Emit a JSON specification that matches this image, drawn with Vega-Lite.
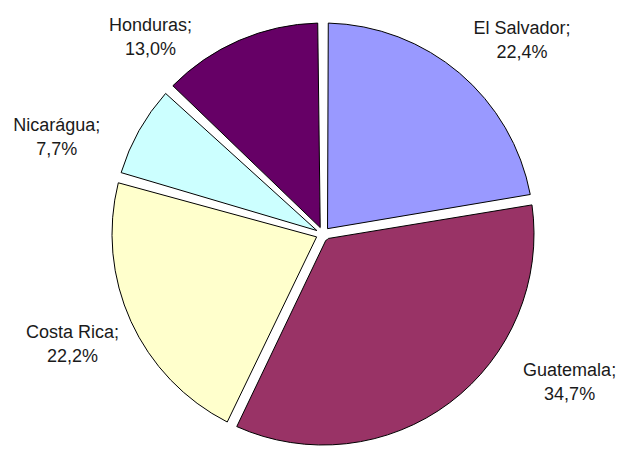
{
  "$schema": "https://vega.github.io/schema/vega-lite/v6.json",
  "width": 604,
  "height": 432,
  "autosize": "none",
  "padding": {"left": 21, "top": 18, "right": 0, "bottom": 0},
  "background": "white",
  "view": {"stroke": null},
  "config": {
    "text": {"font": "Liberation Sans", "fontSize": 18, "lineHeight": 24, "lineBreak": "\n", "align": "center", "baseline": "middle", "color": "#1a1a1a", "dy": -12}
  },
  "data": {
    "values": [
      {"country": "El Salvador", "value": 22.4, "idx": 1, "label": "El Salvador;\n22,4%"},
      {"country": "Guatemala", "value": 34.7, "idx": 2, "label": "Guatemala;\n34,7%"},
      {"country": "Costa Rica", "value": 22.2, "idx": 3, "label": "Costa Rica;\n22,2%"},
      {"country": "Nicarágua", "value": 7.7, "idx": 4, "label": "Nicarágua;\n7,7%"},
      {"country": "Honduras", "value": 13.0, "idx": 5, "label": "Honduras;\n13,0%"}
    ]
  },
  "encoding": {
    "theta": {"field": "value", "type": "quantitative", "stack": true},
    "order": {"field": "idx", "type": "quantitative"}
  },
  "layer": [
    {
      "mark": {"type": "arc", "radius": 211, "radius2": 7, "padAngle": 0.05, "stroke": "#000000", "strokeWidth": 1},
      "encoding": {
        "color": {
          "field": "country",
          "type": "nominal",
          "scale": {
            "domain": ["El Salvador", "Guatemala", "Costa Rica", "Nicarágua", "Honduras"],
            "range": ["#9999FF", "#993366", "#FFFFCC", "#CCFFFF", "#660066"]
          },
          "legend": null
        }
      }
    },
    {
      "mark": {"type": "text", "radius": 277, "thetaOffset": 0.098},
      "encoding": {"text": {"condition": {"test": "datum.country === 'El Salvador'", "field": "label"}, "value": ""}}
    },
    {
      "mark": {"type": "text", "radius": 288, "thetaOffset": -0.384},
      "encoding": {"text": {"condition": {"test": "datum.country === 'Guatemala'", "field": "label"}, "value": ""}}
    },
    {
      "mark": {"type": "text", "radius": 274, "thetaOffset": 0.01},
      "encoding": {"text": {"condition": {"test": "datum.country === 'Costa Rica'", "field": "label"}, "value": ""}}
    },
    {
      "mark": {"type": "text", "radius": 283, "thetaOffset": -0.166},
      "encoding": {"text": {"condition": {"test": "datum.country === 'Nicarágua'", "field": "label"}, "value": ""}}
    },
    {
      "mark": {"type": "text", "radius": 261, "thetaOffset": -0.314},
      "encoding": {"text": {"condition": {"test": "datum.country === 'Honduras'", "field": "label"}, "value": ""}}
    }
  ]
}
